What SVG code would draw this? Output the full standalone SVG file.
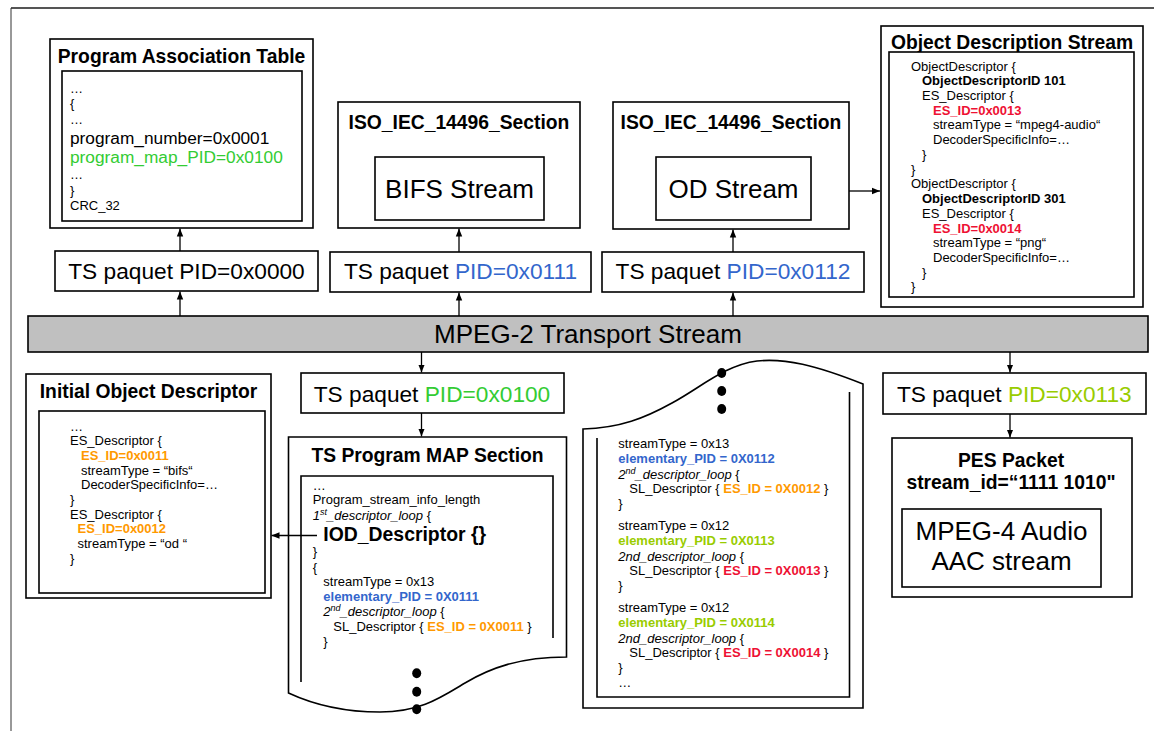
<svg xmlns="http://www.w3.org/2000/svg" width="1154" height="731" viewBox="0 0 1154 731">
<style>
text{font-family:"Liberation Sans",Arial,sans-serif;fill:#000}
.s{font-size:13px}
.b{font-weight:bold}
.i{font-style:italic}
.t{font-size:19.3px;font-weight:bold;text-anchor:middle}
.big{font-size:26px;text-anchor:middle}
.ts{font-size:22.7px;text-anchor:middle}
.m{font-size:17.3px}
.box{fill:#fff;stroke:#000;stroke-width:1.6}
.ln{fill:none;stroke:#000;stroke-width:1.6}
.c{fill:none;stroke:#000;stroke-width:1.3}
.grn{fill:#33cc33}
.blu{fill:#3366cc}
.ylg{fill:#99cc00}
.org{fill:#ff9900}
.red{fill:#ee1133}
.dot{fill:#000}
</style>
<defs>
<marker id="ah" viewBox="0 0 10 10" refX="10" refY="5" markerWidth="8" markerHeight="8" markerUnits="userSpaceOnUse" orient="auto"><path d="M0,1 L10,5 L0,9 z" fill="#000"/></marker>
</defs>
<rect width="1154" height="731" fill="#fff"/>
<g id="frame">
<line x1="11" y1="8" x2="1154" y2="8" stroke="#555" stroke-width="2"/>
<line x1="11" y1="8" x2="11" y2="731" stroke="#333" stroke-width="1"/>
</g>

<g id="pat">
<rect class="box" x="50" y="39" width="263" height="189"/>
<text class="t" x="181.5" y="63">Program Association Table</text>
<rect class="box" x="62" y="71" width="240" height="150"/>
<text class="s" x="70" y="93">…</text>
<text class="s" x="70" y="108">{</text>
<text class="s" x="70" y="124">…</text>
<text class="m" x="70" y="144">program_number=0x0001</text>
<text class="m grn" x="70" y="163">program_map_PID=0x0100</text>
<text class="s" x="70" y="179">…</text>
<text class="s" x="70" y="195">}</text>
<text class="s" x="70" y="210">CRC_32</text>
</g>

<g id="iso-bifs">
<rect class="box" x="338" y="102" width="242" height="126"/>
<text class="t" x="459" y="129">ISO_IEC_14496_Section</text>
<rect class="box" x="375" y="157" width="169" height="63"/>
<text class="big" x="459.5" y="198">BIFS Stream</text>
</g>

<g id="iso-od">
<rect class="box" x="613" y="102" width="236" height="127"/>
<text class="t" x="731" y="129">ISO_IEC_14496_Section</text>
<rect class="box" x="656" y="157" width="155" height="63"/>
<text class="big" x="733.5" y="198">OD Stream</text>
</g>

<g id="ods">
<rect class="box" x="881" y="26" width="262" height="281"/>
<text class="t" x="1012" y="48.5">Object Description Stream</text>
<rect class="box" x="889" y="52" width="245" height="245"/>
<text class="s" x="911" y="70.5">ObjectDescriptor {</text>
<text class="s b" x="922" y="85.2">ObjectDescriptorID 101</text>
<text class="s" x="922" y="100">ES_Descriptor {</text>
<text class="s b red" x="933" y="114.7">ES_ID=0x0013</text>
<text class="s" x="933" y="129.4">streamType = “mpeg4-audio“</text>
<text class="s" x="933" y="144.1">DecoderSpecificInfo=…</text>
<text class="s" x="922" y="158.9">}</text>
<text class="s" x="911" y="173.6">}</text>
<text class="s" x="911" y="188.3">ObjectDescriptor {</text>
<text class="s b" x="922" y="203.1">ObjectDescriptorID 301</text>
<text class="s" x="922" y="217.8">ES_Descriptor {</text>
<text class="s b red" x="933" y="232.5">ES_ID=0x0014</text>
<text class="s" x="933" y="247.2">streamType = “png“</text>
<text class="s" x="933" y="262">DecoderSpecificInfo=…</text>
<text class="s" x="922" y="276.7">}</text>
<text class="s" x="911" y="291.4">}</text>
</g>

<g id="ts0000">
<rect class="box" x="55" y="251" width="263" height="40"/>
<text class="ts" x="186.5" y="279.3">TS paquet PID=0x0000</text>
</g>
<g id="ts0111">
<rect class="box" x="330" y="252" width="261" height="40"/>
<text class="ts" x="460.5" y="279.3">TS paquet <tspan class="blu">PID=0x0111</tspan></text>
</g>
<g id="ts0112">
<rect class="box" x="602" y="252" width="262" height="40"/>
<text class="ts" x="733" y="279.3">TS paquet <tspan class="blu">PID=0x0112</tspan></text>
</g>

<g id="mpeg2ts">
<rect x="28" y="316" width="1120" height="36" fill="#c0c0c0" stroke="#000" stroke-width="1.6"/>
<text class="big" x="588" y="343">MPEG-2 Transport Stream</text>
</g>

<g id="ts0100">
<rect class="box" x="301" y="373" width="263" height="40"/>
<text class="ts" x="432" y="401.7">TS paquet <tspan class="grn">PID=0x0100</tspan></text>
</g>
<g id="ts0113">
<rect class="box" x="883" y="373" width="263" height="41"/>
<text class="ts" x="1014.3" y="401.7">TS paquet <tspan class="ylg">PID=0x0113</tspan></text>
</g>

<g id="pes">
<rect class="box" x="892" y="438" width="240" height="159"/>
<text class="t" x="1011" y="467">PES Packet</text>
<text class="t" x="1011" y="489">stream_id=“1111 1010"</text>
<rect class="box" x="902" y="509" width="199" height="78"/>
<text class="big" x="1001.5" y="539.5">MPEG-4 Audio</text>
<text class="big" x="1001.5" y="570">AAC stream</text>
</g>

<g id="iod">
<rect class="box" x="26" y="374" width="245" height="224"/>
<text class="t" x="148.5" y="397.5">Initial Object Descriptor</text>
<rect class="box" x="39" y="411" width="226" height="182"/>
<text class="s" x="70" y="430.5">…</text>
<text class="s" x="70" y="445.2">ES_Descriptor {</text>
<text class="s b org" x="81" y="459.9">ES_ID=0x0011</text>
<text class="s" x="81" y="474.5">streamType = “bifs“</text>
<text class="s" x="81" y="489.2">DecoderSpecificInfo=…</text>
<text class="s" x="70" y="503.9">}</text>
<text class="s" x="70" y="518.6">ES_Descriptor {</text>
<text class="s b org" x="77.5" y="533.3">ES_ID=0x0012</text>
<text class="s" x="77.5" y="547.9">streamType = “od “</text>
<text class="s" x="70" y="562.6">}</text>
</g>

<g id="pmt">
<path class="box" d="M288.5,437 H566.5 V657 C520,657 490,668 465,683 C440,698 420,712 380,712 C340,712 310,703 288.5,693 Z"/>
<path class="ln" d="M301,682 V476 H553 V638"/>
<text class="t" x="427.5" y="461.5">TS Program MAP Section</text>
<text class="s" x="312.7" y="490">…</text>
<text class="s" x="312.7" y="504">Program_stream_info_length</text>
<text class="s" x="312.7" y="519.5"><tspan class="i">1</tspan><tspan class="i" font-size="9" dy="-5">st</tspan><tspan class="i" dy="5">_descriptor_loop</tspan> {</text>
<text class="b" font-size="19.4" x="323.3" y="541">IOD_Descriptor {}</text>
<text class="s" x="312.7" y="556">}</text>
<text class="s" x="312.7" y="571.5">{</text>
<text class="s" x="323.3" y="586">streamType = 0x13</text>
<text class="s b blu" x="323.3" y="601">elementary_PID = 0X0111</text>
<text class="s" x="323.3" y="616"><tspan class="i">2</tspan><tspan class="i" font-size="9" dy="-5">nd</tspan><tspan class="i" dy="5">_descriptor_loop</tspan> {</text>
<text class="s" x="333.3" y="631">SL_Descriptor { <tspan class="b org">ES_ID = 0X0011</tspan> }</text>
<text class="s" x="323.3" y="646">}</text>
<ellipse class="dot" cx="416.7" cy="673.3" rx="4.5" ry="5"/>
<ellipse class="dot" cx="416.7" cy="691.7" rx="4.5" ry="5"/>
<ellipse class="dot" cx="416.7" cy="709.3" rx="4.5" ry="5"/>
</g>

<g id="pmt-cont">
<path class="box" d="M583,429 C620,428 645,418 672,403 C700,388 725,365 757,361 C785,358 815,365 863,384 V708 H583 Z"/>
<path class="ln" d="M597,438 V697 H849.5 V392"/>
<ellipse class="dot" cx="721.7" cy="373" rx="4.5" ry="5"/>
<ellipse class="dot" cx="721.7" cy="391" rx="4.5" ry="5"/>
<ellipse class="dot" cx="721.7" cy="409" rx="4.5" ry="5"/>
<text class="s" x="618.3" y="448">streamType = 0x13</text>
<text class="s b blu" x="618.3" y="463">elementary_PID = 0X0112</text>
<text class="s" x="618.3" y="478.5"><tspan class="i">2</tspan><tspan class="i" font-size="9" dy="-5">nd</tspan><tspan class="i" dy="5">_descriptor_loop</tspan> {</text>
<text class="s" x="629.3" y="493">SL_Descriptor { <tspan class="b org">ES_ID = 0X0012</tspan> }</text>
<text class="s" x="618.3" y="507.5">}</text>
<text class="s" x="618.3" y="529.5">streamType = 0x12</text>
<text class="s b ylg" x="618.3" y="545">elementary_PID = 0X0113</text>
<text class="s" x="618.3" y="560.5"><tspan class="i">2nd_descriptor_loop</tspan> {</text>
<text class="s" x="629.3" y="575">SL_Descriptor { <tspan class="b red">ES_ID = 0X0013</tspan> }</text>
<text class="s" x="618.3" y="589.5">}</text>
<text class="s" x="618.3" y="612">streamType = 0x12</text>
<text class="s b ylg" x="618.3" y="627">elementary_PID = 0X0114</text>
<text class="s" x="618.3" y="642.5"><tspan class="i">2nd_descriptor_loop</tspan> {</text>
<text class="s" x="629.3" y="657">SL_Descriptor { <tspan class="b red">ES_ID = 0X0014</tspan> }</text>
<text class="s" x="618.3" y="672">}</text>
<text class="s" x="618.3" y="686.5">…</text>
</g>

<g id="connectors">
<line class="c" x1="180" y1="316" x2="180" y2="291.5" marker-end="url(#ah)"/>
<line class="c" x1="180" y1="251" x2="180" y2="228.5" marker-end="url(#ah)"/>
<line class="c" x1="459" y1="316" x2="459" y2="292.5" marker-end="url(#ah)"/>
<line class="c" x1="459" y1="252" x2="459" y2="228.5" marker-end="url(#ah)"/>
<line class="c" x1="733" y1="316" x2="733" y2="292.5" marker-end="url(#ah)"/>
<line class="c" x1="733" y1="252" x2="733" y2="229.5" marker-end="url(#ah)"/>
<line class="c" x1="421.5" y1="352" x2="421.5" y2="372.5" marker-end="url(#ah)"/>
<line class="c" x1="421.5" y1="413" x2="421.5" y2="436.5" marker-end="url(#ah)"/>
<line class="c" x1="1010" y1="352" x2="1010" y2="372.5" marker-end="url(#ah)"/>
<line class="c" x1="1010" y1="414" x2="1010" y2="437.5" marker-end="url(#ah)"/>
<line class="c" x1="849" y1="191" x2="880" y2="191" marker-end="url(#ah)"/>
<line class="c" x1="317" y1="535.5" x2="271.5" y2="535.5" marker-end="url(#ah)"/>
</g>
</svg>
